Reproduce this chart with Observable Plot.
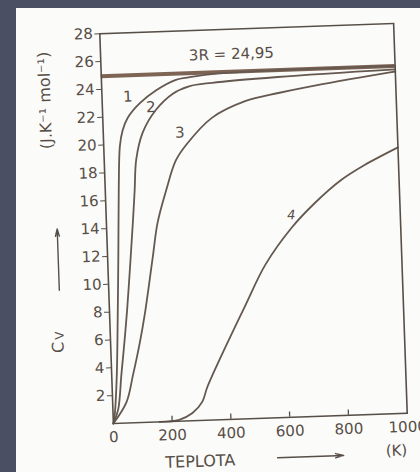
<!DOCTYPE html>
<html><head><meta charset="utf-8">
<script src="https://cdn.jsdelivr.net/npm/d3@7"></script>
<script src="https://cdn.jsdelivr.net/npm/@observablehq/plot@0.6"></script>
<style>
html,body{margin:0;padding:0;background:#4b4f63;width:420px;height:472px;overflow:hidden;}
#paper{position:absolute;left:16px;top:8px;width:404px;height:464px;background:#fbfbf9;}
#chart{position:absolute;left:0;top:0;width:420px;height:472px;}
#chart svg{position:absolute;left:0;top:0;width:420px;height:472px;max-width:none;transform:rotate(-2deg);transform-origin:253px 223px;overflow:visible;}
</style></head>
<body><div id="paper"></div><div id="chart"></div>
<script>
// Curve data (T in K, Cv in J.K^-1.mol^-1)
const curve1T = [0, 6, 17, 27, 37, 46, 55, 66, 85, 127, 185, 253, 297, 400, 1000];
const curve1C = [0, 0.7, 3.4, 7.5, 12.2, 16.8, 19.9, 21.0, 21.9, 22.9, 23.8, 24.5, 24.65, 24.85, 24.95];
const curve2T = [0, 18, 33, 47, 60, 78, 91, 100, 109, 134, 182, 240, 297, 376, 600, 1000];
const curve2C = [0, 1.0, 3.5, 5.8, 8.1, 11.8, 14.6, 16.7, 18.9, 20.8, 22.4, 23.5, 24.0, 24.2, 24.45, 24.7];
const curve3T = [0, 47, 72, 99, 120, 154, 174, 207, 243, 280, 372, 486, 600, 711, 982, 1000];
const curve3C = [0, 1.5, 3.4, 5.7, 7.8, 11.9, 14.3, 16.6, 18.7, 19.8, 21.7, 22.8, 23.3, 23.7, 24.5, 24.55];
const curve4T = [157, 224, 270, 305, 323, 385, 464, 535, 629, 710, 803, 883, 1000];
const curve4C = [0, 0.1, 0.55, 1.35, 2.35, 5.0, 8.2, 11.0, 13.6, 15.3, 16.9, 17.9, 19.1];
const curveNames = ["1", "2", "3", "4"];
const threeR = 24.95;
const xTicks = [0, 200, 400, 600, 800, 1000];
const xInnerTicks = [200, 400, 600, 800];
const yTicks = [2, 4, 6, 8, 10, 12, 14, 16, 18, 20, 22, 24, 26, 28];

const seriesT = [curve1T, curve2T, curve3T, curve4T];
const seriesC = [curve1C, curve2C, curve3C, curve4C];
const rows = [];
curveNames.forEach((name, i) => seriesT[i].forEach((t, j) => rows.push({curve: name, T: t, C: seriesC[i][j]})));

const ink = "#574e47";
const lineInk = "#655850";

const chart = Plot.plot({
  width: 420, height: 472,
  marginLeft: 106, marginRight: 20, marginTop: 28, marginBottom: 54,
  style: {background: "transparent", fontFamily: "DejaVu Sans, sans-serif", fontSize: "15px", color: ink, overflow: "visible"},
  x: {domain: [0, 1000], ticks: xTicks, tickFormat: d => String(d), tickSize: 0, tickPadding: 8, label: null},
  y: {domain: [0, 28], ticks: yTicks, tickFormat: d => String(d), tickSize: 5, tickPadding: 2, label: null},
  marks: [
    Plot.ruleY([threeR], {stroke: "#7d6454", strokeWidth: 4}),
    Plot.line(rows, {x: "T", y: "C", z: "curve", stroke: lineInk, strokeWidth: 1.8, curve: "catmull-rom"}),
    Plot.ruleX(xInnerTicks, {y1: 0, y2: 0.38, stroke: ink, strokeWidth: 1.3}),
    Plot.frame({stroke: ink, strokeWidth: 1.6}),
    Plot.text(["3R = 24,95"], {x: 445, y: 26.2, fill: ink, fontSize: 15}),
    Plot.text(["1"], {x: 88, y: 23.4, fill: ink, fontSize: 15}),
    Plot.text(["2"], {x: 165, y: 22.6, fill: ink, fontSize: 15}),
    Plot.text(["3"], {x: 260, y: 20.7, fill: ink, fontSize: 15}),
    Plot.text(["4"], {x: 629, y: 14.5, fill: ink, fontSize: 13, fontStyle: "italic"}),
    Plot.text(["(J.K⁻¹ mol⁻¹)"], {x: -193, y: 23.35, rotate: -90, fill: ink, fontSize: 16}),
    Plot.text(["C"], {x: -178, y: 5.6, rotate: -90, fill: ink, fontSize: 16}),
    Plot.text(["V"], {x: -172, y: 6.45, rotate: -90, fill: ink, fontSize: 12}),
    Plot.arrow([0], {x1: -168, y1: 9.7, x2: -168, y2: 14.1, stroke: ink, strokeWidth: 1.4, headLength: 8, headAngle: 30}),
    Plot.text(["TEPLOTA"], {x: 291, y: -2.95, fill: ink, fontSize: 16}),
    Plot.arrow([0], {x1: 554, y1: -2.87, x2: 779, y2: -2.87, stroke: ink, strokeWidth: 1.4, headLength: 9, headAngle: 30}),
    Plot.text(["(K)"], {x: 959, y: -2.66, fill: ink, fontSize: 15})
  ]
});
document.getElementById("chart").appendChild(chart);
</script>
</body></html>
